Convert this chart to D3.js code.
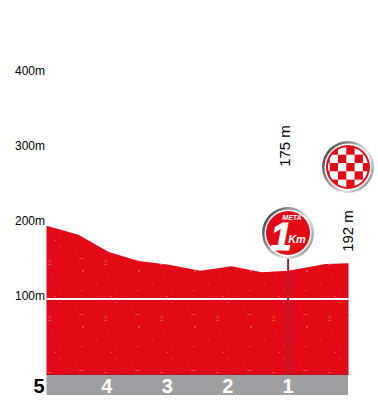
<!DOCTYPE html>
<html>
<head>
<meta charset="utf-8">
<script src="https://cdn.jsdelivr.net/npm/d3@7"></script>
<style>
    html, body { margin: 0; padding: 0; background: #fff; }
    svg { display: block; }
    text { font-family: "Liberation Sans", Arial, sans-serif; }
</style>
</head>
<body>
<div id="chart"></div>
<script>
// Data
const profileKm = [5, 4.47, 3.97, 3.47, 2.97, 2.45, 1.94, 1.43, 1, 0.38, 0];
const profileAlt = [199, 187, 164, 152, 147, 139, 145, 137, 139, 148, 149];
const altTicks = [100, 200, 300, 400, 500];
const kmLabels = [5, 4, 3, 2, 1];
const markerKm = 1;
const markerLabel = "175 m";
const finishLabel = "192 m";

const width = 378;
const height = 400;

const xScale = d3.scaleLinear().domain([5, 0]).range([46.5, 348.5]);
const yScale = d3.scaleLinear().domain([0, 400]).range([375, 75]);

const svg = d3.select("#chart")
    .append("svg")
    .attr("width", width)
    .attr("height", height);

const defs = svg.append("defs");

// Speckled texture on the red area
const speck = defs.append("pattern")
    .attr("id", "speck")
    .attr("patternUnits", "userSpaceOnUse")
    .attr("x", 46).attr("y", 300)
    .attr("width", 56).attr("height", 56);
speck.append("rect").attr("width", 56).attr("height", 56).attr("fill", "#e30a17");
speck.append("path")
    .attr("d", "M2 16h3v1h-3zM3 18h2v1h-2zM2 20h3v1h-3zM33 14h5v1h-5zM13 2h2v1h-2zM30 8h1v1h-1zM47 10h1v1h-1zM5 30h1v1h-1zM24 32h1v1h-1zM36 26h2v2h-2zM14 44h1v1h-1zM35 46h2v1h-2zM50 40h1v1h-1zM27 21h1v1h-1zM20 12h1v1h-1zM44 50h1v1h-1zM8 52h2v1h-2zM28 38h1v1h-1z")
    .attr("fill", "#ef4650");

// Red profile area
const points = profileKm.map((km, i) => ({ km: km, alt: profileAlt[i] }));
const area = d3.area()
    .x(d => xScale(d.km))
    .y0(yScale(0))
    .y1(d => yScale(d.alt));

svg.append("path")
    .datum(points)
    .attr("d", area)
    .attr("fill", "url(#speck)")
    .attr("stroke", "none");

// Darker edge at the foot of the area
svg.append("line")
    .attr("x1", xScale(5)).attr("x2", xScale(0))
    .attr("y1", yScale(0) - 0.5).attr("y2", yScale(0) - 0.5)
    .attr("stroke", "#c0101b");

// White line at 100 m
svg.append("line")
    .attr("x1", xScale(5)).attr("x2", xScale(0))
    .attr("y1", yScale(100) - 1).attr("y2", yScale(100) - 1)
    .attr("stroke", "#fff")
    .attr("stroke-width", 2);

// Altitude axis, only the labels are visible
const yAxis = d3.axisLeft(yScale)
    .tickValues(altTicks)
    .tickSize(0)
    .tickPadding(1)
    .tickFormat(d => d + "m");

const yAxisG = svg.append("g")
    .attr("transform", "translate(46, -4)")
    .call(yAxis);
yAxisG.select(".domain").remove();
yAxisG.selectAll("text")
    .attr("font-size", 12)
    .attr("fill", "#000");

// Grey km band
svg.append("rect")
    .attr("x", xScale(5)).attr("y", yScale(0))
    .attr("width", xScale(0) - xScale(5) - 0.5)
    .attr("height", 20)
    .attr("fill", "#9d9fa2");

svg.selectAll(".km-label")
    .data(kmLabels)
    .join("text")
    .attr("class", "km-label")
    .attr("x", d => d === 5 ? xScale(d) - 2 : xScale(d))
    .attr("y", 393)
    .attr("text-anchor", d => d === 5 ? "end" : "middle")
    .attr("font-size", 20)
    .attr("font-weight", "bold")
    .attr("fill", d => d === 5 ? "#000" : "#fff")
    .text(d => d);

// Marker stem at km 1
svg.append("line")
    .attr("x1", xScale(markerKm)).attr("x2", xScale(markerKm))
    .attr("y1", 250).attr("y2", yScale(0))
    .attr("stroke", "#a4213f")
    .attr("stroke-width", 2);

// Rotated altitude labels
function rotatedLabel(x, y, label) {
    svg.append("text")
        .attr("transform", `translate(${x}, ${y}) rotate(-90)`)
        .attr("text-anchor", "middle")
        .attr("font-size", 15)
        .attr("fill", "#000")
        .text(label);
}
rotatedLabel(290, 146, markerLabel);
rotatedLabel(353, 231, finishLabel);

// Metal ring used by both badges
const ring = defs.append("linearGradient")
    .attr("id", "ring")
    .attr("x1", 0).attr("y1", 0.2).attr("x2", 1).attr("y2", 0.8);
ring.append("stop").attr("offset", "0%").attr("stop-color", "#3f3f3f");
ring.append("stop").attr("offset", "40%").attr("stop-color", "#a8a8a8");
ring.append("stop").attr("offset", "65%").attr("stop-color", "#e8e8e8");
ring.append("stop").attr("offset", "100%").attr("stop-color", "#8c8c8c");

function badge(cx, cy) {
    const g = svg.append("g").attr("transform", `translate(${cx}, ${cy})`);
    g.append("circle").attr("r", 26).attr("fill", "url(#ring)");
    g.append("circle").attr("r", 23.5).attr("fill", "#fff");
    g.append("circle").attr("r", 22).attr("fill", "#e30a17");
    return g;
}

// Finish badge with the chequered pattern
const finish = badge(348, 167);
defs.append("clipPath").attr("id", "finish-clip")
    .append("circle").attr("r", 20);
const cell = 8.3;
const cells = d3.cross(d3.range(-3, 4), d3.range(-3, 4)).filter(d => Math.abs(d[0] + d[1]) % 2 === 1);
finish.append("g")
    .attr("clip-path", "url(#finish-clip)")
    .selectAll("rect")
    .data(cells)
    .join("rect")
    .attr("x", d => d[0] * cell - 1.7)
    .attr("y", d => d[1] * cell - 4)
    .attr("width", cell)
    .attr("height", cell)
    .attr("fill", "#fff");

// 1 Km badge
const oneKm = badge(288, 233);
oneKm.append("text")
    .attr("x", 4).attr("y", -13)
    .attr("text-anchor", "middle")
    .attr("font-size", 7)
    .attr("font-weight", "bold")
    .attr("font-style", "italic")
    .attr("fill", "#fff")
    .text("META");
oneKm.append("text")
    .attr("x", -7).attr("y", 17)
    .attr("text-anchor", "middle")
    .attr("font-size", 38)
    .attr("font-weight", "bold")
    .attr("font-style", "italic")
    .attr("stroke", "#fff")
    .attr("fill", "#fff")
    .text("1");
oneKm.append("text")
    .attr("x", 9).attr("y", 10)
    .attr("text-anchor", "middle")
    .attr("font-size", 11)
    .attr("font-weight", "bold")
    .attr("font-style", "italic")
    .attr("fill", "#fff")
    .text("Km");
</script>
</body>
</html>
